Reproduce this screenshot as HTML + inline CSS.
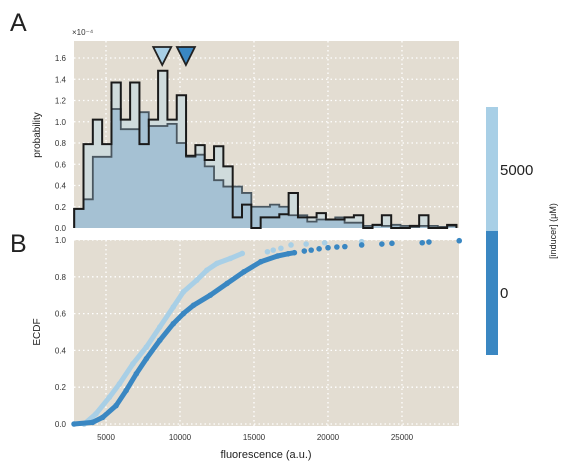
<!DOCTYPE html>
<html><head><meta charset="utf-8"><style>
body{margin:0;background:#fff;font-family:"Liberation Sans",sans-serif}
svg{display:block}
</style></head><body>
<svg id="fig" width="573" height="470" xmlns="http://www.w3.org/2000/svg" font-family="Liberation Sans, DejaVu Sans, sans-serif">
<text x="10" y="31" font-size="25" fill="#222">A</text>
<text x="10" y="252" font-size="25" fill="#222">B</text>
<rect x="74" y="41" width="385" height="187" fill="#e3ddd2"/>
<rect x="74" y="240" width="385" height="186" fill="#e3ddd2"/>
<g id="gridA"></g>
<g id="gridB"></g>
<g id="hist"></g>
<g id="ecdf"></g>
<g id="axes"></g>
<text x="72" y="35" font-size="8" fill="#333">×10⁻⁴</text>
<text transform="translate(40,135) rotate(-90)" text-anchor="middle" font-size="10" fill="#222">probability</text>
<text transform="translate(40,332) rotate(-90)" text-anchor="middle" font-size="10" fill="#222">ECDF</text>
<text x="266" y="458" text-anchor="middle" font-size="11" fill="#222">fluorescence (a.u.)</text>
<rect x="486" y="107" width="12" height="124" fill="#a8cfe6"/>
<rect x="486" y="231" width="12" height="124" fill="#3a87c2"/>
<text x="500" y="175" font-size="15" fill="#222">5000</text>
<text x="500" y="298" font-size="15" fill="#222">0</text>
<text transform="translate(556,231) rotate(-90)" text-anchor="middle" font-size="9" fill="#222">[inducer] (μM)</text>
</svg>
<script>
const lightHist=[0.18,0.79,1.02,0.79,1.37,1.02,1.37,0.79,1.02,1.48,1.02,1.25,0.68,0.78,0.64,0.77,0.58,0.10,0.22,0,0.10,0.10,0.13,0.33,0.10,0.10,0.14,0.08,0.08,0.10,0.12,0,0.03,0.12,0,0,0.02,0.12,0,0,0.03];
const darkHist=[0.18,0.27,0.67,0.67,1.12,0.93,0.93,1.09,0.96,0.96,0.98,0.80,0.67,0.69,0.58,0.45,0.39,0.39,0.33,0.20,0.20,0.22,0.20,0.12,0.12,0.06,0.08,0.08,0.10,0.05,0.05,0.02,0.03,0.02,0.03,0.02,0.01,0.02,0.02,0.01,0.02];
const binStart=2850, binWidth=630;
const meanLight=8800, meanDark=10400;
const darkX=[2841,4091,4773,5682,6364,7046,7728,8637,9546,10228,10910,12046,13183,14319,15456,16592,17300,17729,18400,18865,19400,20002,20600,21138,22275,23639,24321,26366,26821,28867];
const darkY=[0,0.009,0.036,0.1,0.182,0.273,0.355,0.455,0.545,0.6,0.645,0.7,0.764,0.827,0.882,0.913,0.925,0.931,0.94,0.945,0.952,0.958,0.962,0.964,0.973,0.978,0.982,0.985,0.989,0.996];
const lightX=[3523,4318,5227,5909,6818,7728,8637,9546,10228,11137,11819,12501,13410,14206,15910,16300,16819,17501,18524,19774,22275];
const lightY=[0,0.055,0.145,0.218,0.327,0.418,0.527,0.636,0.718,0.782,0.836,0.873,0.9,0.927,0.936,0.945,0.955,0.973,0.978,0.985,0.991];
const xTicks=[5000,10000,15000,20000,25000];
const yTicksA=[0,0.2,0.4,0.6,0.8,1.0,1.2,1.4,1.6];
const yTicksB=[0,0.2,0.4,0.6,0.8,1.0];

const NS="http://www.w3.org/2000/svg";
const X0=2838,X1=28852;
const sx=v=>74+(v-X0)/(X1-X0)*385;
const syA=v=>228-v*106.25;
const syB=v=>424-v*184;
function mk(tag,attrs,parent){const e=document.createElementNS(NS,tag);for(const k in attrs)e.setAttribute(k,attrs[k]);parent.appendChild(e);return e;}
const gA=document.getElementById('gridA'),gB=document.getElementById('gridB'),ax=document.getElementById('axes');
xTicks.forEach(t=>{
  let l=mk('line',{x1:sx(t),x2:sx(t),y1:41,y2:228,stroke:'#fff','stroke-width':1.3,'stroke-dasharray':'1.5,3'},gA);
  
  
  let l2=mk('line',{x1:sx(t),x2:sx(t),y1:240,y2:426,stroke:'#fff','stroke-width':1.3,'stroke-dasharray':'1.5,3'},gB);
  
  
  let tx=mk('text',{x:sx(t),y:440,'text-anchor':'middle','font-size':8,fill:'#333'},ax);tx.textContent=t;
  
  
});
yTicksA.forEach(t=>{
  let l=mk('line',{x1:74,x2:459,y1:syA(t),y2:syA(t),stroke:'#fff','stroke-width':1.3,'stroke-dasharray':'1.5,3'},gA);
  
  
  let tx=mk('text',{x:66,y:syA(t)+3,'text-anchor':'end','font-size':8,fill:'#333'},ax);tx.textContent=t.toFixed(1);
  
  
});
yTicksB.forEach(t=>{
  let l=mk('line',{x1:74,x2:459,y1:syB(t),y2:syB(t),stroke:'#fff','stroke-width':1.3,'stroke-dasharray':'1.5,3'},gB);
  
  
  let tx=mk('text',{x:66,y:syB(t)+3,'text-anchor':'end','font-size':8,fill:'#333'},ax);tx.textContent=t.toFixed(1);
  
  
});
function stepPath(vals){
  let d='M'+sx(binStart)+','+syA(0);
  vals.forEach((v,i)=>{const a=sx(binStart+i*binWidth),b=sx(binStart+(i+1)*binWidth);d+=' L'+a+','+syA(v)+' L'+b+','+syA(v);});
  d+=' L'+sx(binStart+vals.length*binWidth)+','+syA(0);return d;
}
const h=document.getElementById('hist');
let p1=mk('path',{d:stepPath(lightHist)+' Z',fill:'#cfdbdc'},h);


let p2=mk('path',{d:stepPath(darkHist)+' Z',fill:'#a5c1d3'},h);


let p3=mk('path',{d:stepPath(darkHist),fill:'none',stroke:'#4a5760','stroke-width':1.8},h);


let p4=mk('path',{d:stepPath(lightHist),fill:'none',stroke:'#1a1a1a','stroke-width':2},h);


function tri(v,col,name){const x=sx(v);let t=mk('path',{d:`M${x-9},47 L${x+9},47 L${x},65 Z`,fill:col,stroke:'#222','stroke-width':1.8},h);

}
tri(meanLight,'#a8cfe6','mean-marker-5000');
tri(meanDark,'#3a87c2','mean-marker-0');
const e=document.getElementById('ecdf');
function series(xs,ys,col,name,cut){
  let pts=xs.filter(x=>x<=cut).map((x,i)=>sx(x)+','+syB(ys[i])).join(' ');
  let pl=mk('polyline',{points:pts,fill:'none',stroke:col,'stroke-width':5,'stroke-linejoin':'round','stroke-linecap':'round'},e);
  
  
  xs.forEach((x,i)=>{let c=mk('circle',{cx:sx(x),cy:syB(ys[i]),r:2.8,fill:col},e);
  
  });
}
series(lightX,lightY,'#a8cfe6','ecdf-5000',14300);
series(darkX,darkY,'#3a87c2','ecdf-0',17800);
</script>
</body></html>
